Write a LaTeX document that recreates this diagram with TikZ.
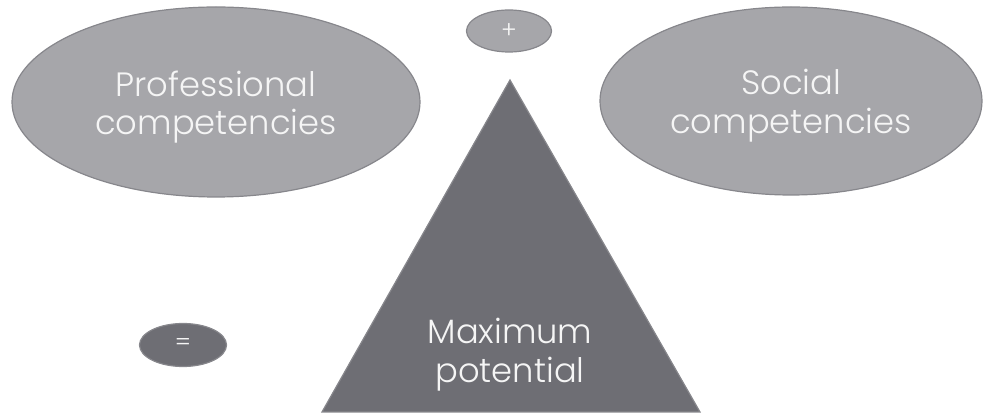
\documentclass[tikz,border=0pt]{standalone}
\usepackage{fontspec}
\setmainfont{Poppins}[UprightFont=* Light]
\usetikzlibrary{shapes.geometric}
\definecolor{lightgr}{RGB}{166,166,170}
\definecolor{edgegr}{RGB}{135,135,140}
\definecolor{darkgr}{RGB}{110,110,116}
\definecolor{textgr}{RGB}{245,245,245}
\tikzset{
  compet/.style={ellipse, fill=lightgr, draw=edgegr, line width=0.3mm},
  comptext/.style={text=textgr, align=center, font=\fontsize{24}{27.6}\selectfont},
  sign/.style={ellipse, draw=edgegr, line width=0.3mm, text=textgr, font=\fontsize{17}{18}\selectfont}
}
\begin{document}
\begin{tikzpicture}[x=0.25mm,y=-0.25mm]
	\useasboundingbox (0,0) rectangle (985,418);
%	\fill[white] (0,0) rectangle (985,418);
	\node[compet, minimum width=408*0.25mm, minimum height=190*0.25mm] (prof) at (216,102) {};
	\node[comptext] (proftext) at (216,107) {Professional\\competencies};
	\node[compet, minimum width=382*0.25mm, minimum height=188*0.25mm] (soc) at (791,101) {};
	\node[comptext] (soctext) at (791,106) {Social\\competencies};
	\node[sign, fill=lightgr, minimum width=85*0.25mm, minimum height=42*0.25mm] (plus) at (509,31) {+};
	\node[sign, fill=darkgr, minimum width=87*0.25mm, minimum height=43*0.25mm] (eq) at (183,345) {=};
	\coordinate (top) at (510,80);
	\coordinate (bl) at (322,412);
	\coordinate (br) at (700,412);
	\draw[fill=darkgr, draw=edgegr, line width=0.3mm] (top) -- (br) -- (bl) -- cycle;
	\node[comptext] (maxpot) at (510,355) {Maximum\\potential};
\end{tikzpicture}
\end{document}
